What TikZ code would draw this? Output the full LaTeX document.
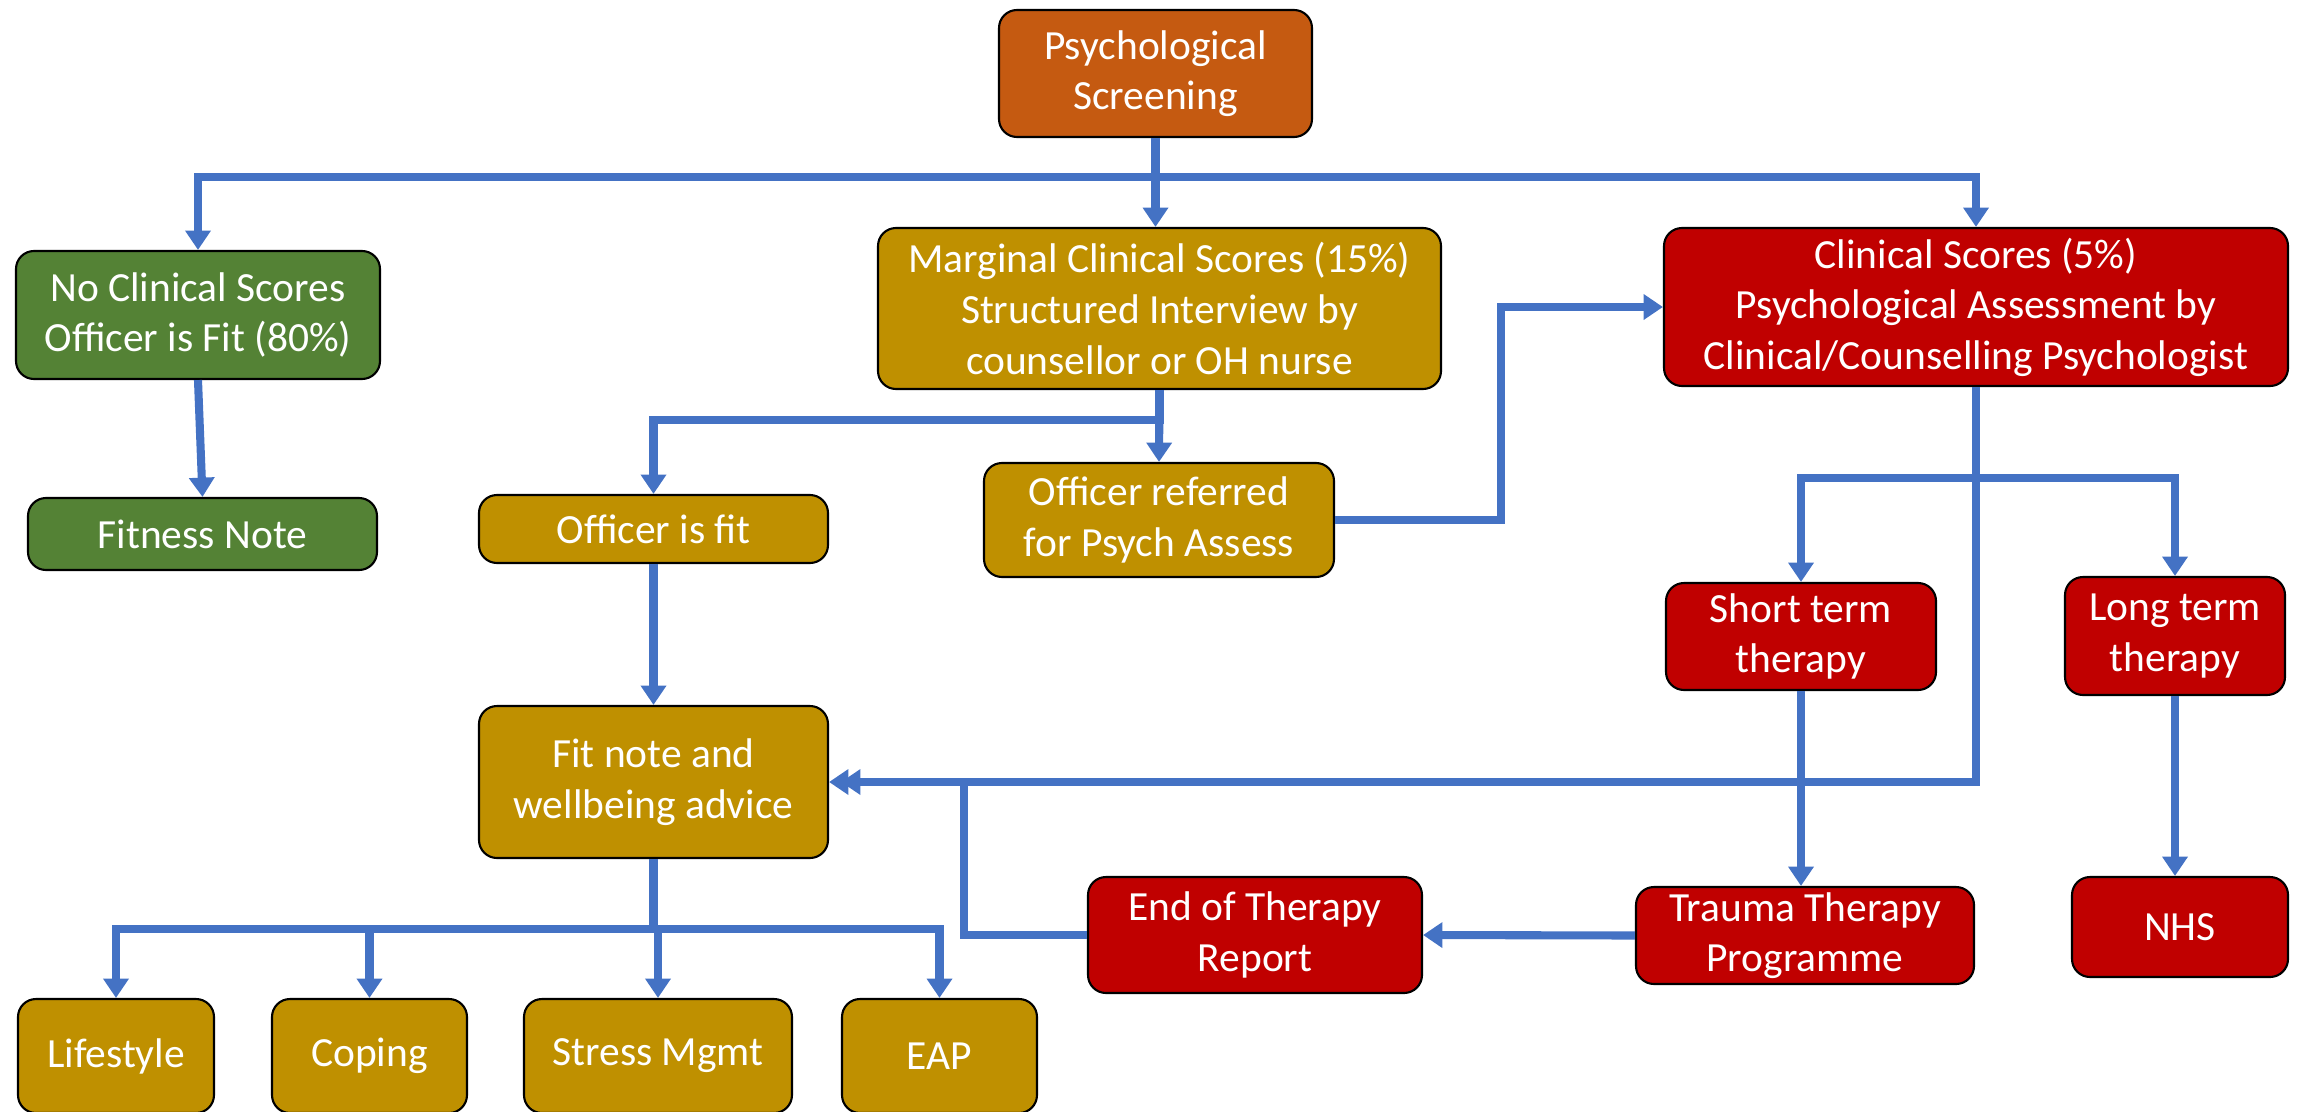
\documentclass[tikz,border=0pt]{standalone}
\usepackage{fontspec}
\setmainfont{Carlito}
\usetikzlibrary{arrows.meta,calc}

\definecolor{screenorange}{HTML}{C55A11}
\definecolor{fitgreen}{HTML}{548235}
\definecolor{margold}{HTML}{BF9000}
\definecolor{clinred}{HTML}{C00000}
\definecolor{flowblue}{HTML}{4472C4}

\begin{document}
\begin{tikzpicture}[>={Triangle[width=7pt,length=5.5pt]}]

% styles
\tikzset{
  box/.style={draw=black, line width=0.6pt, rounded corners=0.18cm, text=white,
    align=center, inner sep=1pt, font=\fontsize{11.8}{14.4}\selectfont},
  screen/.style={box, fill=screenorange},
  fitbox/.style={box, fill=fitgreen},
  margbox/.style={box, fill=margold},
  clinbox/.style={box, fill=clinred},
  flow/.style={->, draw=flowblue, line width=2.3pt},
}

% page
\useasboundingbox (0,0) rectangle (23.03,-11.11);

% top
\node[screen, minimum width=3.13cm, minimum height=1.27cm] (ps) at (11.555,-0.735)
  {Psychological\\Screening};

% three outcomes
\node[fitbox, minimum width=3.64cm, minimum height=1.28cm] (noclin) at (1.98,-3.15)
  {No Clinical Scores\\Officer is Fit (80\%)};
\node[margbox, minimum width=5.63cm, minimum height=1.61cm] (marg) at (11.595,-3.085)
  {Marginal Clinical Scores (15\%)\\Structured Interview by\\counsellor or OH nurse};
\node[clinbox, minimum width=6.24cm, minimum height=1.58cm] (clin) at (19.76,-3.07)
  {Clinical Scores (5\%)\\Psychological Assessment by\\Clinical/Counselling Psychologist};

% second row
\node[fitbox, minimum width=3.49cm, minimum height=0.72cm] (fitness) at (2.025,-5.34)
  {Fitness Note};
\node[margbox, minimum width=3.49cm, minimum height=0.68cm] (offit) at (6.535,-5.29)
  {Officer is fit};
\node[margbox, minimum width=3.5cm, minimum height=1.14cm] (offref) at (11.59,-5.2)
  {Officer referred\\for Psych Assess};
\node[clinbox, minimum width=2.7cm, minimum height=1.07cm] (short) at (18.01,-6.365)
  {Short term\\therapy};
\node[clinbox, minimum width=2.2cm, minimum height=1.18cm] (long) at (21.75,-6.36)
  {Long term\\therapy};

% third row
\node[margbox, minimum width=3.49cm, minimum height=1.52cm] (fitnote) at (6.535,-7.82)
  {Fit note and\\wellbeing advice};
\node[clinbox, minimum width=3.34cm, minimum height=1.16cm] (endrep) at (12.55,-9.35)
  {End of Therapy\\Report};
\node[clinbox, minimum width=3.38cm, minimum height=0.97cm] (trauma) at (18.05,-9.355)
  {Trauma Therapy\\Programme};
\node[clinbox, minimum width=2.16cm, minimum height=1.0cm] (nhs) at (21.8,-9.27)
  {NHS};

% advice boxes
\node[margbox, minimum width=1.96cm, minimum height=1.14cm] (life) at (1.16,-10.56) {Lifestyle};
\node[margbox, minimum width=1.95cm, minimum height=1.14cm] (coping) at (3.695,-10.56) {Coping};
\node[margbox, minimum width=2.68cm, minimum height=1.14cm] (stress) at (6.58,-10.56) {Stress Mgmt};
\node[margbox, minimum width=1.95cm, minimum height=1.14cm] (eap) at (9.395,-10.56) {EAP};

% screening split
\draw[flow] (ps.south) -- ++(0,-0.39) -| (noclin.north);
\draw[flow] (ps.south) -- ++(0,-0.39) -| (clin.north);
\draw[flow] (ps.south) -- (ps.south |- marg.north);
\draw[flow] (noclin.south) -- (fitness.north);

% marginal route
\draw[flow] (marg.south) -- (offref.north);
\draw[flow] (marg.south) -- ++(0,-0.3) -| (offit.north);
\draw[flow] (offref.east) -- ++(1.66,0) |- (clin.west);
\draw[flow] (offit.south) -- (fitnote.north);

% clinical route
\draw[flow] (clin.south) -- ++(0,-0.91) -| (short.north);
\draw[flow] (clin.south) -- ++(0,-0.91) -| (long.north);
\draw[flow] (clin.south) |- (fitnote.east);
\draw[flow] (short.south) -- (short.south |- trauma.north);
\draw[flow] (long.south) -- (long.south |- nhs.north);
\draw[flow] (trauma.west) -- (endrep.east);
\draw[flow] (endrep.west) -- ++(-1.23,0) |- ($(fitnote.east)+(0.12,0)$);

% advice
\foreach \adv in {life,coping,stress,eap}
  \draw[flow] (fitnote.south) -- ++(0,-0.7) -| (\adv.north);

\end{tikzpicture}
\end{document}
